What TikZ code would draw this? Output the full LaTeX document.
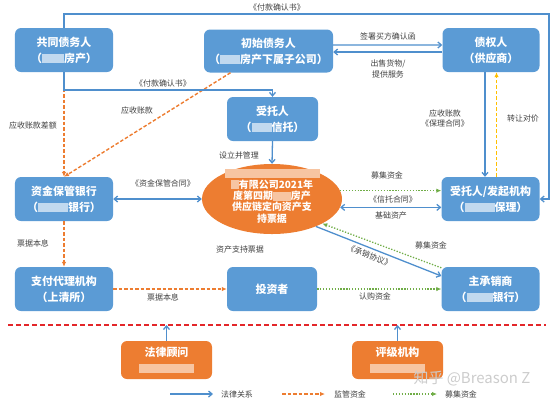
\documentclass[tikz,border=0pt]{standalone}
\usepackage{fontspec}
\setmainfont{Noto Sans CJK SC}
\usetikzlibrary{arrows.meta,shapes.geometric,calc}
\definecolor{bblue}{HTML}{5B9BD5}
\definecolor{lblue}{HTML}{4F8FCD}
\definecolor{bor}{HTML}{ED7D31}
\definecolor{gr}{HTML}{70AD47}
\definecolor{yel}{HTML}{FFC000}
\definecolor{rd}{HTML}{E3262A}
\definecolor{txt}{HTML}{404040}
\colorlet{blurb}{white!62!bblue}
\colorlet{bluro}{white!55!bor}
\newcommand\bz[1]{\textcolor{blurb}{\rule[-1bp]{#1}{9bp}}}
\newcommand\bo[1]{\textcolor{bluro}{\rule[-1bp]{#1}{9bp}}}
\tikzset{
  box/.style={rectangle, rounded corners=6bp, fill=bblue, text=white,
    font=\fontsize{11}{16}\selectfont\bfseries, align=center, inner sep=0pt},
  obox/.style={box, fill=bor},
  ell/.style={ellipse, fill=bor, inner sep=0pt, minimum width=140bp, minimum height=70bp},
  etext/.style={text=white, font=\fontsize{10}{11.5}\selectfont\bfseries, align=center, inner sep=0pt},
  lbl/.style={font=\fontsize{8}{10.5}\selectfont, text=txt, inner sep=1bp, align=center},
  law/.style={draw=lblue, line width=1.3bp, -{Straight Barb[length=3.5bp,width=6bp]}},
  lawd/.style={draw=lblue, line width=1.3bp, {Straight Barb[length=3.5bp,width=6bp]}-{Straight Barb[length=3.5bp,width=6bp]}},
  supv/.style={draw=bor, line width=1.4bp, dash pattern=on 3.5bp off 2bp, -{Latex[length=5bp,width=4.5bp]}},
  fund/.style={draw=gr, line width=1.3bp, dash pattern=on 1.3bp off 1.6bp, -{Latex[length=5bp,width=4.5bp]}},
  payv/.style={draw=yel, line width=1.3bp, dash pattern=on 3.5bp off 2bp, -{Latex[length=5bp,width=4.5bp]}},
}
\begin{document}
\begin{tikzpicture}[x=1bp, y=-1bp]
\useasboundingbox (0,0) rectangle (554,402);

% nodes
\node[box, minimum width=98bp, minimum height=44bp] (A) at (64,50) {共同债务人\\（\bz{22bp}房产）};
\node[box, minimum width=129bp, minimum height=43bp] (B) at (268.5,51) {初始债务人\\（\bz{20bp}房产下属子公司）};
\node[box, minimum width=97bp, minimum height=44bp] (C) at (491,50) {债权人\\（供应商）};
\node[box, minimum width=91bp, minimum height=44bp] (D) at (272.5,119) {受托人\\（\bz{20bp}信托）};
\node[ell] (E) at (272,199) {};
\node[etext] (Et) at (272,196) {\bo{95bp}\\\bo{8bp}有限公司2021年\\度第四期\bo{18bp}房产\\供应链定向资产支\\持票据};
\node[box, minimum width=98bp, minimum height=44bp] (F) at (64,199) {资金保管银行\\（\bz{30bp}银行）};
\node[box, minimum width=98bp, minimum height=44bp] (G) at (490.5,199) {受托人/发起机构\\（\bz{30bp}保理）};
\node[box, minimum width=98bp, minimum height=44bp] (H) at (64,289) {支付代理机构\\（上清所）};
\node[box, minimum width=90bp, minimum height=44bp] (I) at (272,289) {投资者};
\node[box, minimum width=98bp, minimum height=44bp] (J) at (490.5,289) {主承销商\\（\bz{26bp}银行）};
\node[obox, minimum width=91bp, minimum height=38bp] (K) at (166.5,360) {法律顾问\\\bo{55bp}};
\node[obox, minimum width=91bp, minimum height=38bp] (L) at (397.5,360) {评级机构\\\bo{55bp}};

% waypoints
\coordinate (tr) at (549,14);
\coordinate (c2) at (272.5,90);
\coordinate (rl) at (8,325);
\coordinate (rr) at (546,325);

% orange supervision flows
\draw[supv] (A.south) -- (F.north);
\draw[supv] ([xshift=-38bp]B.south) -- (F.north);
\draw[supv] (F.south) -- (H.north);
\draw[supv] (H.east) -- (I.west);

% legal relations
\draw[law] (A.north) |- (tr) |- (G.east);
\draw[law] (A.south) |- (c2) -- (D.north);
\draw[law] ([yshift=6bp]B.east) -- ([yshift=5bp]C.west);
\draw[law] ([yshift=-2bp]C.west) -- ([yshift=-2bp]C.west -| B.east);
\draw[law] ([xshift=-6bp]C.south) -- ([xshift=-6bp]C.south |- G.north);
\draw[payv] ([xshift=6bp]G.north) -- ([xshift=6bp]G.north |- C.south);
\draw[law] (D.south) -- (E.north);
\draw[lawd] (F.east) -- (E.west);
\draw[fund] (E.7) -- (E.7 -| G.west);
\draw[lawd] (E.-7) -- (E.-7 -| G.west);
\draw[fund] ([yshift=-1bp]J.north west) -- (E.-26);
\draw[law] (E.-32) -- ([yshift=13bp]J.west) node[pos=0.45, below=2bp, sloped, lbl] {《承销协议》};
\draw[fund] (I.east) -- (J.west);

% separator
\draw[rd, line width=1.7bp, dash pattern=on 5bp off 3bp] (rl) -- (rr);
\draw[law] (K.north) -- (K.north |- rl);
\draw[law] (L.north) -- (L.north |- rl);

% labels
\node[lbl] (t1) at (277,7) {《付款确认书》};
\node[lbl] (t2) at (163,83) {《付款确认书》};
\node[lbl] (t3) at (388,36) {签署买方确认函};
\node[lbl] (t4) at (388,69) {出售货物/\\提供服务};
\node[lbl] (t5) at (33,125) {应收账款差额};
\node[lbl] (t6) at (137,110) {应收账款};
\node[lbl] (t7) at (445,118.5) {应收账款\\《保理合同》};
\node[lbl] (t8) at (523,118) {转让对价};
\node[lbl] (t9) at (239,155) {设立并管理};
\node[lbl] (t10) at (163,183) {《资金保管合同》};
\node[lbl] (t11) at (387,175) {募集资金};
\node[lbl] (t12) at (393,199) {《信托合同》};
\node[lbl] (t13) at (391,215) {基础资产};
\node[lbl] (t14) at (431,245) {募集资金};
\node[lbl] (t15) at (33,243) {票据本息};
\node[lbl] (t16) at (240,249) {资产支持票据};
\node[lbl] (t17) at (163,297) {票据本息};
\node[lbl] (t18) at (375,296) {认购资金};

% legend
\coordinate (g1a) at (170,394); \coordinate (g1b) at (213,394);
\coordinate (g2a) at (282,394); \coordinate (g2b) at (325,394);
\coordinate (g3a) at (393,394); \coordinate (g3b) at (437,394);
\draw[law] (g1a) -- (g1b);
\draw[supv] (g2a) -- (g2b);
\draw[fund] (g3a) -- (g3b);
\node[lbl] (lg1) at (237,394) {法律关系};
\node[lbl] (lg2) at (350,394) {监管资金};
\node[lbl] (lg3) at (461,394) {募集资金};

% watermark
\node[font=\fontsize{15}{15}\selectfont, text=gray!40, inner sep=0pt] (wm) at (472,378) {知乎 @Breason Z};
\end{tikzpicture}
\end{document}
